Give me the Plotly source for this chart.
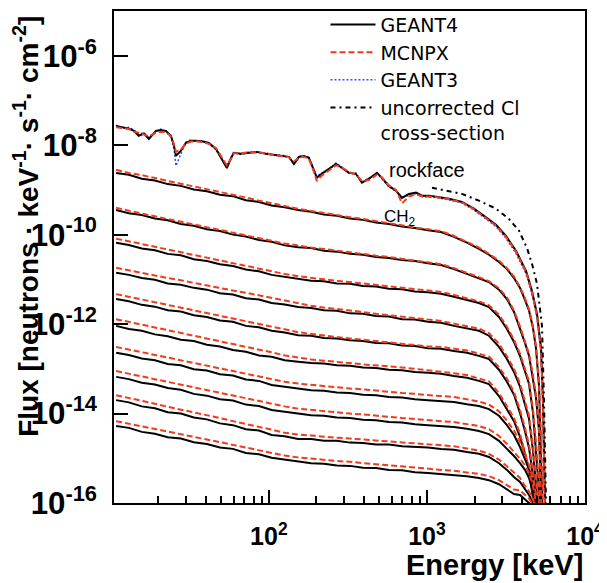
import plotly.graph_objects as go

# energy grid for the CH2 curves (keV)
energy = [10.8, 13.0, 15.7, 19.0, 22.9, 27.7, 33.5, 40.5, 49.0, 59.2, 71.5, 86.5, 104, 126,
          153, 185, 223, 269, 326, 394, 476, 575, 695, 839, 1015,
          1227, 1483, 1791, 2133, 2467, 2856, 3207, 3555, 3880, 4170, 4425, 4690, 4900,
          5117, 5270, 5420, 5585]

# log10 flux, CH2 layers, GEANT4
g4_1 = [-8.62, -8.66, -8.75, -8.79, -8.87, -8.91, -8.99, -9.03, -9.11, -9.14, -9.23, -9.27, -9.35, -9.39,
        -9.45, -9.49, -9.55, -9.58, -9.64, -9.67, -9.73, -9.76, -9.82, -9.85, -9.90,
        -9.94, -10.05, -10.18, -10.32, -10.45, -10.61, -10.77, -10.97, -11.19, -11.46, -11.70, -12.09, -12.55,
        -13.38, -14.61, -16.18, -18.19]
g4_2 = [-9.45, -9.52, -9.56, -9.64, -9.68, -9.76, -9.80, -9.88, -9.92, -10.00, -10.04, -10.12, -10.16, -10.24,
        -10.28, -10.30, -10.36, -10.38, -10.43, -10.45, -10.50, -10.52, -10.57, -10.59, -10.64,
        -10.68, -10.77, -10.88, -10.97, -11.06, -11.23, -11.44, -11.73, -12.09, -12.42, -12.71, -13.20, -13.65,
        -14.39, -15.96, -17.30, -19.09]
g4_3 = [-10.18, -10.23, -10.31, -10.35, -10.43, -10.46, -10.55, -10.59, -10.66, -10.70, -10.78, -10.82, -10.90, -10.94,
        -10.99, -11.03, -11.04, -11.09, -11.10, -11.15, -11.16, -11.21, -11.22, -11.27, -11.29,
        -11.32, -11.39, -11.46, -11.53, -11.62, -11.84, -12.11, -12.40, -12.71, -13.05, -13.34, -13.99, -14.77,
        -15.73, -16.40, -17.74, -19.31]
g4_4 = [-10.85, -10.90, -10.97, -11.01, -11.09, -11.12, -11.19, -11.23, -11.31, -11.34, -11.42, -11.45, -11.53, -11.56,
        -11.62, -11.64, -11.69, -11.70, -11.76, -11.77, -11.82, -11.83, -11.89, -11.90, -11.95,
        -11.97, -12.04, -12.09, -12.15, -12.26, -12.51, -12.78, -13.07, -13.40, -13.79, -14.12, -14.84, -15.51,
        -16.18, -16.85, -18.19, -19.53]
g4_5 = [-11.44, -11.49, -11.57, -11.61, -11.69, -11.72, -11.80, -11.84, -11.92, -11.95, -12.04, -12.07, -12.15, -12.19,
        -12.25, -12.26, -12.31, -12.32, -12.36, -12.38, -12.42, -12.43, -12.48, -12.49, -12.54,
        -12.55, -12.60, -12.64, -12.71, -12.78, -13.02, -13.29, -13.58, -13.99, -14.39, -14.77, -15.40, -16.02,
        -16.63, -17.30, -18.42, -19.76]
g4_6 = [-12.04, -12.11, -12.15, -12.23, -12.27, -12.35, -12.38, -12.46, -12.50, -12.58, -12.62, -12.70, -12.73, -12.81,
        -12.84, -12.87, -12.88, -12.92, -12.93, -12.97, -12.98, -13.02, -13.03, -13.07, -13.09,
        -13.11, -13.16, -13.20, -13.27, -13.34, -13.61, -13.90, -14.17, -14.52, -14.90, -15.28, -15.89, -16.29,
        -16.85, -17.52, -18.64, -19.98]
g4_7 = [-12.64, -12.69, -12.77, -12.81, -12.89, -12.92, -13.01, -13.04, -13.12, -13.15, -13.24, -13.27, -13.36, -13.40,
        -13.45, -13.48, -13.49, -13.53, -13.54, -13.58, -13.59, -13.63, -13.64, -13.68, -13.70,
        -13.72, -13.74, -13.79, -13.83, -13.90, -14.05, -14.26, -14.48, -14.75, -15.02, -15.24, -15.58, -15.89,
        -16.22, -16.85, -17.97, -19.31]
g4_8 = [-13.18, -13.23, -13.31, -13.35, -13.43, -13.47, -13.56, -13.60, -13.68, -13.71, -13.80, -13.83, -13.92, -13.96,
        -14.01, -14.04, -14.05, -14.09, -14.10, -14.14, -14.15, -14.19, -14.20, -14.24, -14.26,
        -14.28, -14.30, -14.34, -14.39, -14.46, -14.61, -14.79, -14.95, -15.11, -15.26, -15.44, -15.75, -16.07,
        -16.51, -17.07, -18.19, -19.31]
g4_9 = [-13.70, -13.75, -13.84, -13.88, -13.97, -14.00, -14.09, -14.13, -14.22, -14.26, -14.35, -14.38, -14.48, -14.51,
        -14.57, -14.57, -14.61, -14.61, -14.65, -14.66, -14.69, -14.69, -14.73, -14.74, -14.76,
        -14.79, -14.81, -14.86, -14.90, -14.97, -15.11, -15.26, -15.42, -15.53, -15.69, -15.82, -16.00, -16.22,
        -16.63, -17.19, -18.19, -19.31]
g4_10 = [-14.28, -14.32, -14.41, -14.45, -14.53, -14.56, -14.64, -14.68, -14.76, -14.79, -14.88, -14.91, -14.99, -15.03,
         -15.08, -15.11, -15.12, -15.16, -15.17, -15.21, -15.22, -15.26, -15.27, -15.31, -15.33,
         -15.35, -15.37, -15.40, -15.44, -15.49, -15.58, -15.69, -15.80, -15.82, -15.93, -16.00, -16.18, -16.40,
         -16.85, -17.30, -18.19, -19.31]

# log10 flux, CH2 layers, MCNPX
mc_1 = [-8.55, -8.62, -8.67, -8.74, -8.80, -8.86, -8.92, -8.99, -9.05, -9.11, -9.17, -9.24, -9.30, -9.37,
        -9.42, -9.47, -9.52, -9.56, -9.61, -9.65, -9.70, -9.75, -9.79, -9.84, -9.88,
        -9.92, -10.03, -10.16, -10.29, -10.43, -10.58, -10.75, -10.94, -11.17, -11.42, -11.67, -12.05, -12.50,
        -13.30, -14.50, -16.0, -18.0]
mc_2 = [-9.40, -9.47, -9.53, -9.59, -9.65, -9.71, -9.77, -9.83, -9.89, -9.95, -10.01, -10.07, -10.14, -10.20,
        -10.24, -10.29, -10.32, -10.36, -10.40, -10.43, -10.47, -10.50, -10.54, -10.57, -10.61,
        -10.66, -10.75, -10.85, -10.95, -11.04, -11.20, -11.40, -11.70, -12.05, -12.38, -12.67, -13.15, -13.60,
        -14.30, -15.8, -17.2, -19.0]
mc_3 = [-10.09, -10.15, -10.21, -10.27, -10.33, -10.39, -10.46, -10.52, -10.58, -10.64, -10.70, -10.76, -10.82, -10.88,
        -10.93, -10.97, -11.00, -11.03, -11.06, -11.09, -11.12, -11.15, -11.18, -11.21, -11.24,
        -11.28, -11.35, -11.42, -11.49, -11.58, -11.79, -12.06, -12.35, -12.66, -13.00, -13.28, -13.92, -14.65,
        -15.6, -16.3, -17.6, -19.2]
mc_4 = [-10.74, -10.80, -10.86, -10.91, -10.97, -11.02, -11.08, -11.13, -11.19, -11.25, -11.30, -11.36, -11.42, -11.48,
        -11.54, -11.59, -11.63, -11.66, -11.70, -11.73, -11.77, -11.80, -11.84, -11.87, -11.90,
        -11.93, -11.99, -12.04, -12.10, -12.20, -12.44, -12.72, -13.00, -13.33, -13.72, -14.05, -14.75, -15.4,
        -16.1, -16.8, -18.1, -19.5]
mc_5 = [-11.33, -11.39, -11.45, -11.51, -11.57, -11.63, -11.69, -11.75, -11.81, -11.87, -11.93, -11.99, -12.05, -12.11,
        -12.18, -12.22, -12.26, -12.29, -12.32, -12.35, -12.38, -12.41, -12.44, -12.47, -12.50,
        -12.51, -12.55, -12.59, -12.66, -12.73, -12.96, -13.22, -13.52, -13.92, -14.32, -14.70, -15.30, -15.9,
        -16.5, -17.2, -18.3, -19.7]
mc_6 = [-11.89, -11.95, -12.02, -12.08, -12.14, -12.20, -12.26, -12.32, -12.38, -12.44, -12.50, -12.56, -12.63, -12.70,
        -12.75, -12.79, -12.82, -12.84, -12.87, -12.90, -12.92, -12.95, -12.97, -13.00, -13.03,
        -13.06, -13.10, -13.14, -13.21, -13.28, -13.54, -13.84, -14.10, -14.45, -14.84, -15.22, -15.80, -16.2,
        -16.8, -17.5, -18.6, -19.9]
mc_7 = [-12.51, -12.57, -12.63, -12.69, -12.75, -12.81, -12.87, -12.93, -12.99, -13.05, -13.11, -13.17, -13.23, -13.29,
        -13.33, -13.36, -13.39, -13.41, -13.44, -13.46, -13.49, -13.51, -13.54, -13.56, -13.59,
        -13.61, -13.63, -13.68, -13.73, -13.80, -13.95, -14.16, -14.38, -14.64, -14.92, -15.15, -15.50, -15.80,
        -16.1, -16.7, -17.8, -19.2]
mc_8 = [-13.05, -13.11, -13.17, -13.23, -13.29, -13.36, -13.42, -13.48, -13.54, -13.60, -13.66, -13.72, -13.78, -13.84,
        -13.89, -13.92, -13.95, -13.97, -14.00, -14.02, -14.05, -14.07, -14.10, -14.12, -14.15,
        -14.17, -14.19, -14.23, -14.28, -14.35, -14.50, -14.68, -14.85, -15.01, -15.16, -15.33, -15.62, -15.95,
        -16.35, -16.9, -18.0, -19.2]
mc_9 = [-13.59, -13.65, -13.72, -13.78, -13.85, -13.91, -13.97, -14.04, -14.10, -14.17, -14.23, -14.29, -14.36, -14.43,
        -14.47, -14.49, -14.52, -14.54, -14.56, -14.58, -14.60, -14.62, -14.64, -14.66, -14.68,
        -14.71, -14.73, -14.78, -14.83, -14.90, -15.03, -15.18, -15.33, -15.44, -15.62, -15.74, -15.92, -16.12,
        -16.5, -17.1, -18.1, -19.2]
mc_10 = [-14.17, -14.23, -14.29, -14.35, -14.41, -14.47, -14.53, -14.58, -14.64, -14.70, -14.76, -14.82, -14.88, -14.94,
         -14.98, -15.01, -15.03, -15.06, -15.08, -15.11, -15.13, -15.16, -15.18, -15.21, -15.23,
         -15.26, -15.28, -15.31, -15.35, -15.40, -15.49, -15.60, -15.70, -15.72, -15.83, -15.90, -16.05, -16.25,
         -16.6, -17.1, -18.1, -19.2]

# rockface spectrum
energy_rock = [10.8, 11.7, 13.0, 14.0, 15.0, 16.2, 17.4, 19.3, 20.7, 22.3, 24.0, 25.1, 25.8, 27.7, 29.8,
               32.1, 34.5, 38.2, 41.7, 46.2, 49.7, 54.2, 57.4, 60.0, 66.5, 74.7, 84.0, 95.7, 108, 121,
               134, 144, 155, 167, 179, 193, 201, 216, 240, 266, 290, 321, 355, 388, 430, 483, 519,
               574, 637, 695, 769, 852, 930, 1030, 1140, 1378, 1666, 1983, 2295, 2735, 3162, 3657,
               4234, 4620, 4970, 5270, 5420, 5585, 5745]
rock_g4 = [-7.57, -7.59, -7.63, -7.68, -7.79, -7.74, -7.86, -7.68, -7.66, -7.68, -7.79, -8.01, -8.24, -8.13, -7.95,
           -7.90, -7.90, -7.92, -7.95, -8.08, -8.28, -8.51, -8.30, -8.17, -8.19, -8.17, -8.15, -8.19, -8.21, -8.24,
           -8.26, -8.42, -8.26, -8.24, -8.28, -8.57, -8.73, -8.64, -8.53, -8.42, -8.51, -8.62, -8.64, -8.84, -8.75,
           -8.62, -8.73, -8.91, -9.02, -9.18, -9.09, -9.06, -9.13, -9.13, -9.15, -9.20, -9.27, -9.42, -9.58, -9.78,
           -10.03, -10.36, -10.81, -11.26, -11.77, -12.53, -13.72, -16.02, -18.19]
rock_mc = [-7.60, -7.61, -7.64, -7.70, -7.72, -7.76, -7.80, -7.72, -7.70, -7.71, -7.80, -7.98, -8.15, -8.10, -7.97,
           -7.92, -7.91, -7.93, -7.97, -8.06, -8.25, -8.45, -8.32, -8.18, -8.18, -8.16, -8.16, -8.18, -8.22, -8.25,
           -8.27, -8.36, -8.28, -8.26, -8.30, -8.60, -8.80, -8.68, -8.56, -8.45, -8.50, -8.60, -8.66, -8.80, -8.78,
           -8.66, -8.72, -8.90, -9.00, -9.30, -9.15, -9.10, -9.14, -9.15, -9.16, -9.21, -9.28, -9.43, -9.59, -9.80,
           -10.05, -10.38, -10.83, -11.30, -11.82, -12.60, -13.80, -16.1, -18.2]
rock_g3 = [-7.55, -7.62, -7.60, -7.66, -7.75, -7.72, -7.83, -7.70, -7.64, -7.70, -7.82, -8.08, -8.46, -8.18, -7.93,
           -7.88, -7.92, -7.90, -7.97, -8.10, -8.26, -8.47, -8.28, -8.15, -8.21, -8.15, -8.17, -8.17, -8.23, -8.22,
           -8.28, -8.40, -8.24, -8.26, -8.27, -8.55, -8.70, -8.62, -8.55, -8.40, -8.49, -8.63, -8.62, -8.82, -8.73,
           -8.64, -8.75, -8.93, -9.03, -9.16, -9.12, -9.08, -9.15, -9.16, -9.17, -9.22, -9.29, -9.45, -9.62, -9.82,
           -10.08, -10.42, -10.87, -11.33, -11.85, -12.62, -13.82, -16.1, -18.2]

# rockface with uncorrected Cl cross-section
energy_cl = [1076, 1378, 1666, 2133, 2735, 3304, 3820, 4295, 4620, 4970, 5190, 5344, 5504, 5666]
rock_cl = [-8.95, -9.02, -9.09, -9.24, -9.42, -9.65, -9.91, -10.30, -10.65, -11.10, -11.59, -12.04, -13.72, -16.02]

x_major = [100, 1000, 10000]
x_major_text = ["10<sup>2</sup>", "10<sup>3</sup>", "10<sup>4</sup>"]
y_exponents = [-16, -15, -14, -13, -12, -11, -10, -9, -8, -7, -6, -5]

FONT = "Liberation Sans, Arial, Helvetica, sans-serif"
LEGEND_FONT = "DejaVu Sans, Liberation Sans, sans-serif"
RED = "#f23a1c"
BLUE = "#2f4cff"

g4_layers = [g4_1, g4_2, g4_3, g4_4, g4_5, g4_6, g4_7, g4_8, g4_9, g4_10]
mc_layers = [mc_1, mc_2, mc_3, mc_4, mc_5, mc_6, mc_7, mc_8, mc_9, mc_10]


def flux(logs):
    return [10 ** v for v in logs]


fig = go.Figure()

for g4, mc in zip(g4_layers, mc_layers):
    fig.add_trace(go.Scatter(x=energy, y=flux(g4), mode="lines", showlegend=False,
                             line=dict(color="black", width=2)))
    fig.add_trace(go.Scatter(x=energy, y=flux(mc), mode="lines", showlegend=False,
                             line=dict(color=RED, width=2, dash="6px,3px")))

fig.add_trace(go.Scatter(x=energy_rock, y=flux(rock_g3), mode="lines", name="GEANT3", legendrank=3,
                         line=dict(color=BLUE, width=1.5, dash="2px,2px")))
fig.add_trace(go.Scatter(x=energy_rock, y=flux(rock_g4), mode="lines", name="GEANT4", legendrank=1,
                         line=dict(color="black", width=2)))
fig.add_trace(go.Scatter(x=energy_rock, y=flux(rock_mc), mode="lines", name="MCNPX", legendrank=2,
                         line=dict(color=RED, width=2, dash="6px,3px")))
fig.add_trace(go.Scatter(x=energy_cl, y=flux(rock_cl), mode="lines", legendrank=4,
                         name="uncorrected Cl<br>cross-section",
                         line=dict(color="black", width=2, dash="5px,4px,2px,4px")))

x_minor = [m * d for d in (10, 100, 1000) for m in range(2, 10)]
y_odd = [10.0 ** e for e in y_exponents if e % 2]
y_five = [5 * 10.0 ** e for e in y_exponents]
# show a plain hyphen in the exponents instead of the unicode minus
y_alias = {f"10<sup>\u2212{-e}</sup>": f"10<sup>-{-e}</sup>" for e in y_exponents}

tick_font = dict(family=FONT, size=25, color="black", weight="bold")

fig.update_xaxes(type="log", range=[1.02, 4.0], showgrid=False, zeroline=False,
                 showline=True, linecolor="black", linewidth=2, mirror=True,
                 ticks="inside", ticklen=13, tickwidth=2, tickcolor="black",
                 tickvals=x_major, ticktext=x_major_text, ticklabelstandoff=10,
                 tickfont=tick_font,
                 minor=dict(tickvals=x_minor, ticks="inside", ticklen=7, tickwidth=2,
                            tickcolor="black", showgrid=False))
# labelled decades every 2, the other ticks come from an overlaid axis
fig.update_yaxes(type="log", range=[y_exponents[0], y_exponents[-1]], showgrid=False, zeroline=False,
                 showline=True, linecolor="black", linewidth=2, mirror=True,
                 ticks="inside", ticklen=14, tickwidth=2, tickcolor="black",
                 tickmode="linear", tick0=0, dtick=2, labelalias=y_alias,
                 exponentformat="power", ticklabelstandoff=10,
                 tickfont=tick_font)

fig.add_annotation(text="rockface", xref="paper", yref="paper", x=0.665, y=0.677,
                   xanchor="center", yanchor="middle",
                   showarrow=False, font=dict(family=FONT, size=20, color="black"))
fig.add_annotation(text="CH<sub>2</sub>", xref="paper", yref="paper", x=0.607, y=0.579,
                   xanchor="center", yanchor="middle",
                   showarrow=False, font=dict(family=FONT, size=17, color="black"))
fig.add_annotation(text="Flux [neutrons · keV<sup>-1</sup>· s<sup>-1</sup>· cm<sup>-2</sup>]",
                   xref="paper", yref="paper", x=-0.186, y=0.994, xanchor="center", yanchor="top",
                   textangle=-90, showarrow=False,
                   font=dict(family=FONT, size=28, color="black", weight="bold"))
fig.add_annotation(text="Energy [keV]", xref="paper", yref="paper", x=1.0, y=-0.125,
                   xanchor="right", yanchor="middle", showarrow=False,
                   font=dict(family=FONT, size=29, color="black", weight="bold"))

# the page body adds an 8px offset, so the figure is drawn 8px smaller
fig.update_layout(width=599, height=575,
                  margin=dict(l=106, r=22, t=3, b=80, autoexpand=False),
                  paper_bgcolor="white", plot_bgcolor="white",
                  yaxis2=dict(overlaying="y", type="log", range=[y_exponents[0], y_exponents[-1]],
                              side="left", anchor="x", tickmode="array", tickvals=y_odd,
                              ticks="inside", ticklen=14, tickwidth=2, tickcolor="black",
                              minor=dict(tickmode="array", tickvals=y_five, ticks="inside", ticklen=7,
                                         tickwidth=2, tickcolor="black", showgrid=False),
                              showticklabels=False, showgrid=False, zeroline=False, showline=False),
                  legend=dict(x=0.449, y=1.011, xanchor="left", yanchor="top", valign="top",
                              bgcolor="rgba(255,255,255,0)",
                              font=dict(family=LEGEND_FONT, size=19, color="black"),
                              itemwidth=45))

fig.write_html("out.html")
